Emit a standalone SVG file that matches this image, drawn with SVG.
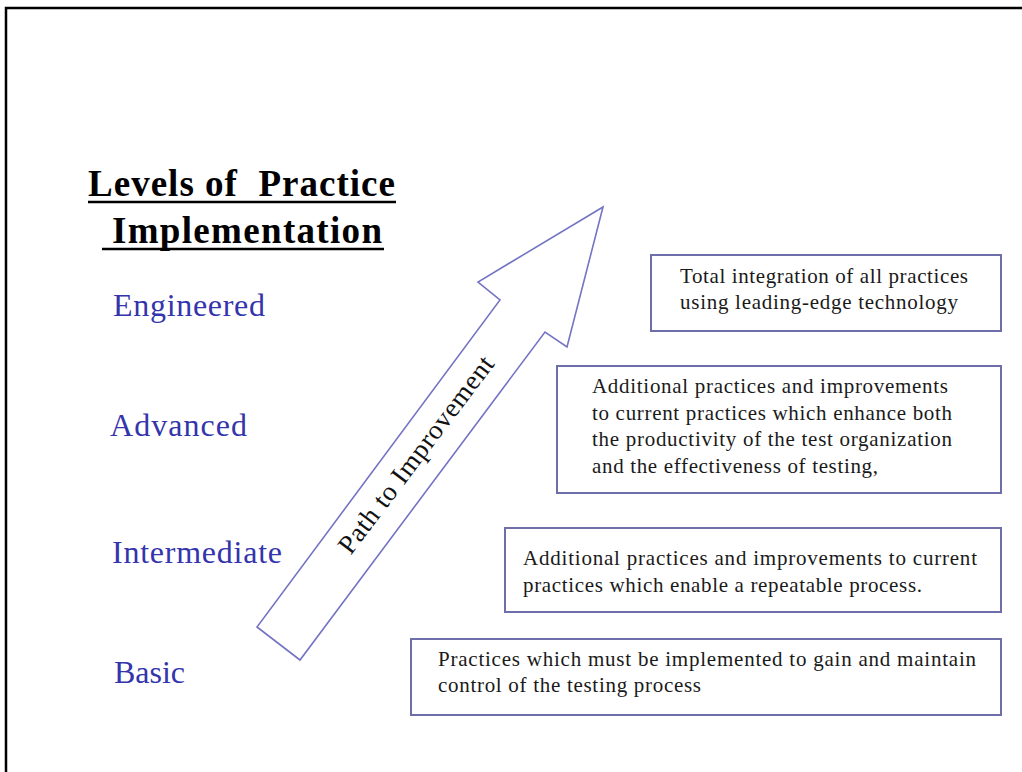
<svg xmlns="http://www.w3.org/2000/svg" width="1022" height="772" viewBox="0 0 1022 772">
  <style>
    .frame { fill: none; stroke: #000; stroke-width: 2.5; }
    .title { font-family: "Liberation Serif", "Times New Roman", serif; font-weight: bold; font-size: 37px; fill: #000; }
    .rule { stroke: #000; stroke-width: 2.5; }
    .level { font-family: "Liberation Serif", "Times New Roman", serif; font-size: 32px; fill: #3434ac; }
    .box { fill: #fff; stroke: #6e6eaa; stroke-width: 2; }
    .desc { font-family: "Liberation Serif", "Times New Roman", serif; font-size: 21px; fill: #1a1a1a; }
    .arrow { fill: #fff; stroke: #7474c4; stroke-width: 1.6; stroke-linejoin: miter; }
    .arrowtext { font-family: "Liberation Serif", "Times New Roman", serif; font-size: 27px; fill: #111; }
  </style>

  <rect width="1022" height="772" fill="#fff"/>

  <!-- slide frame: top and left edges only -->
  <path class="frame" d="M6 772 V8 H1022"/>

  <!-- heading -->
  <g id="title">
    <text class="title" x="88" y="196" textLength="307" lengthAdjust="spacing" xml:space="preserve">Levels of  Practice</text>
    <line class="rule" x1="88" y1="202" x2="396" y2="202"/>
    <text class="title" x="112" y="243" textLength="270" lengthAdjust="spacing">Implementation</text>
    <line class="rule" x1="102" y1="249" x2="384" y2="249"/>
  </g>

  <!-- level names -->
  <g id="level-engineered"><text class="level" x="113" y="316" textLength="152" lengthAdjust="spacing">Engineered</text></g>
  <g id="level-advanced"><text class="level" x="110" y="436" textLength="137" lengthAdjust="spacing">Advanced</text></g>
  <g id="level-intermediate"><text class="level" x="112" y="563" textLength="170" lengthAdjust="spacing">Intermediate</text></g>
  <g id="level-basic"><text class="level" x="114" y="683" textLength="71" lengthAdjust="spacing">Basic</text></g>

  <!-- improvement arrow -->
  <g id="path-arrow">
    <polygon class="arrow" points="603,207 567,347 545,332 300,660 257,627 500,300 478,282"/>
    <text class="arrowtext" transform="translate(423 460) rotate(-53)" x="0" y="0" text-anchor="middle" textLength="240" lengthAdjust="spacing">Path to Improvement</text>
  </g>

  <!-- description boxes -->
  <g id="desc-engineered">
    <rect class="box" x="651" y="255" width="350" height="76"/>
    <text class="desc" x="680" y="283" textLength="288" lengthAdjust="spacing">Total integration of all practices</text>
    <text class="desc" x="680" y="309" textLength="278" lengthAdjust="spacing">using leading-edge technology</text>
  </g>

  <g id="desc-advanced">
    <rect class="box" x="557" y="366" width="444" height="127"/>
    <text class="desc" x="592" y="393" textLength="356" lengthAdjust="spacing">Additional practices and improvements</text>
    <text class="desc" x="592" y="420" textLength="360" lengthAdjust="spacing">to current practices which enhance both</text>
    <text class="desc" x="592" y="446" textLength="360" lengthAdjust="spacing">the productivity of the test organization</text>
    <text class="desc" x="592" y="473" textLength="286" lengthAdjust="spacing">and the effectiveness of testing,</text>
  </g>

  <g id="desc-intermediate">
    <rect class="box" x="505" y="528" width="496" height="84"/>
    <text class="desc" x="523" y="565" textLength="454" lengthAdjust="spacing">Additional practices and improvements to current</text>
    <text class="desc" x="523" y="592" textLength="399" lengthAdjust="spacing">practices which enable a repeatable process.</text>
  </g>

  <g id="desc-basic">
    <rect class="box" x="411" y="639" width="590" height="76"/>
    <text class="desc" x="438" y="666" textLength="538" lengthAdjust="spacing">Practices which must be implemented to gain and maintain</text>
    <text class="desc" x="438" y="692" textLength="263" lengthAdjust="spacing">control of the testing process</text>
  </g>
</svg>
